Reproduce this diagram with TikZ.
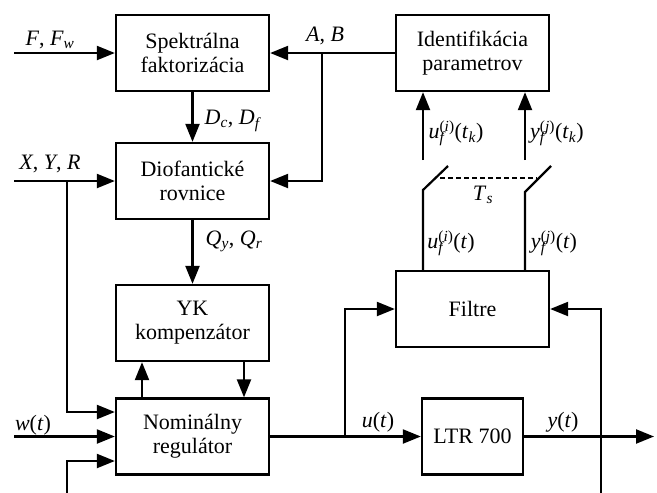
\documentclass[tikz,border=0pt]{standalone}
\usepackage{fontspec}
\setmainfont{Liberation Serif}
\usetikzlibrary{arrows.meta}
\newcommand\mi[1]{\textit{#1}}
\newcommand\supsubs[2]{\setbox0\hbox{\textsuperscript{#1}}\setbox2\hbox{\textsubscript{#2}}\ifdim\wd0>\wd2 \rlap{\box2}\box0\else\rlap{\box0}\box2\fi}
\begin{document}
\begin{tikzpicture}[x=1pt,y=-1pt, line width=2.2pt,
  blk/.style={draw, line width=2.3pt, minimum width=153pt, minimum height=76pt, inner sep=0pt, align=center, font=\fontsize{22}{24}\selectfont},
  arr/.style={-{Triangle[length=18pt,width=14pt]}},
  lbl/.style={font=\fontsize{22}{24}\selectfont, inner sep=0pt},
]
\useasboundingbox (0,0) rectangle (657,493);
% blocks
\node[blk] (spek) at (192.5,53) {Spektrálna\\faktorizácia};
\node[blk] (dio) at (192.5,181) {Diofantické\\rovnice};
\node[blk] (yk) at (192.5,323) {YK\\kompenzátor};
\node[blk] (nom) at (192.5,436.5) {Nominálny\\regulátor};
\node[blk] (ident) at (472.5,53) {Identifikácia\\parametrov};
\node[blk] (filtre) at (472.5,309) {Filtre};
\node[blk, minimum width=101pt] (ltr) at (472.5,436.5) {LTR 700};
% coordinates
\coordinate (inF) at (14,53);
\coordinate (inX) at (14,181);
\coordinate (inW) at (14,436.5);
\coordinate (jAB) at (322,53);
\coordinate (jX) at (67,181);
\coordinate (fbl) at (67,493);
\coordinate (ju) at (345,436.5);
\coordinate (yout) at (654,436.5);
\coordinate (fbr) at (601,493);
\coordinate (s1b) at (423,190);
\coordinate (s1e) at (448,166);
\coordinate (s1t) at (423,160);
\coordinate (s2b) at (525,192);
\coordinate (s2e) at (551,166);
\coordinate (s2t) at (525,160);
\coordinate (d1) at (440,178);
\coordinate (d2) at (537,178);
% connectors
\draw[arr] (inF) -- (spek.west);
\draw[arr] (ident.west) -- (spek.east);
\draw[arr] (jAB) |- (dio.east);
\draw[arr] (spek.south) -- (dio.north);
\draw[arr] (inX) -- (dio.west);
\draw[arr] (jX) |- ([yshift=24.5pt]nom.west);
\draw[arr] (dio.south) -- (yk.north);
\draw[arr] ([xshift=-50.5pt]nom.north) -- ([xshift=-50.5pt]yk.south);
\draw[arr] ([xshift=51.5pt]yk.south) -- ([xshift=51.5pt]nom.north);
\draw[arr] (inW) -- (nom.west);
\draw[arr] (fbl) |- ([yshift=-24.5pt]nom.west);
\draw[arr] (nom.east) -- (ltr.west);
\draw[arr] (ju) |- (filtre.west);
\draw[arr] (ltr.east) -- (yout);
\draw[arr] (fbr) |- (filtre.east);
\draw (filtre.north -| s1b) -- (s1b) -- (s1e);
\draw (filtre.north -| s2b) -- (s2b) -- (s2e);
\draw[arr] (s1t) -- (ident.south -| s1t);
\draw[arr] (s2t) -- (ident.south -| s2t);
\draw[line width=1.6pt, dash pattern=on 5pt off 3pt] (d1) -- (d2);
% labels
\node[lbl] (lF) at (50,40) {\mi{F}, \mi{F}\textsubscript{\mi{w}}};
\node[lbl] (lAB) at (325,36) {\mi{A}, \mi{B}};
\node[lbl] (lD) at (233,121) {\mi{D}\textsubscript{\mi{c}}, \mi{D}\textsubscript{\mi{f}}};
\node[lbl] (lX) at (50,164) {\mi{X}, \mi{Y}, \mi{R}};
\node[lbl] (lQ) at (234,241) {\mi{Q}\textsubscript{\mi{y}}, \mi{Q}\textsubscript{\mi{r}}};
\node[lbl] (lw) at (33,425) {\mi{w}(\mi{t})};
\node[lbl] (lu) at (378,422) {\mi{u}(\mi{t})};
\node[lbl] (ly) at (563,422) {\mi{y}(\mi{t})};
\node[lbl] (lut) at (456,133) {\mi{u}\supsubs{(\mi{i})}{\mi{f}}(\mi{t}\textsubscript{\mi{k}})};
\node[lbl] (lyt) at (557,133) {\mi{y}\supsubs{(\mi{j})}{\mi{f}}(\mi{t}\textsubscript{\mi{k}})};
\node[lbl] (lT) at (483,195) {\mi{T}\textsubscript{\mi{s}}};
\node[lbl] (luf) at (451,243) {\mi{u}\supsubs{(\mi{i})}{\mi{f}}(\mi{t})};
\node[lbl] (lyf) at (554,243) {\mi{y}\supsubs{(\mi{j})}{\mi{f}}(\mi{t})};
\end{tikzpicture}
\end{document}
